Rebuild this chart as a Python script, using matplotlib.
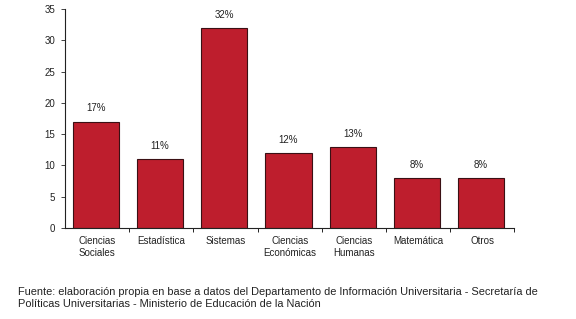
import matplotlib
matplotlib.use("Agg")
import matplotlib.pyplot as plt
import numpy as np

# Data
categories = ["Ciencias\nSociales", "Estadística", "Sistemas", "Ciencias\nEconómicas",
              "Ciencias\nHumanas", "Matemática", "Otros"]
values = [17, 11, 32, 12, 13, 8, 8]
labels = ["17%", "11%", "32%", "12%", "13%", "8%", "8%"]

plt.rcParams['font.family'] = ['Liberation Sans', 'DejaVu Sans']

fig = plt.figure(figsize=(5.76, 3.19), dpi=100)
ax = fig.add_axes([0.113, 0.285, 0.78, 0.687])

x = np.arange(len(categories))
ax.bar(x - 0.02, values, width=0.72, color='#BE1E2D', edgecolor='#3a1014', linewidth=0.8)

for xi, v, lab in zip(x, values, labels):
    ax.text(xi - 0.02, v + 1.3, lab, ha='center', va='bottom', fontsize=7, color='#222222')

ax.set_xlim(-0.5, len(categories) - 0.5)
ax.set_ylim(0, 35)
ax.set_yticks(range(0, 36, 5))
ax.tick_params(axis='y', labelsize=7, length=3, width=0.6, pad=4, colors='#222222')

# category labels centered, tick marks on boundaries
ax.set_xticks(x)
ax.set_xticklabels(categories, fontsize=7, color='#222222')
ax.tick_params(axis='x', length=0, pad=6)
ax.set_xticks(np.arange(0.5, len(categories) - 0.4, 1), minor=True)
ax.tick_params(axis='x', which='minor', length=3, width=0.6, direction='out')

for s in ['top', 'right']:
    ax.spines[s].set_visible(False)
for s in ['left', 'bottom']:
    ax.spines[s].set_linewidth(0.8)
    ax.spines[s].set_color('#222222')

fig.text(0.031, 0.1,
         "Fuente: elaboración propia en base a datos del Departamento de Información Universitaria - Secretaría de\n"
         "Políticas Universitarias - Ministerio de Educación de la Nación",
         fontsize=7.9, color='#222222', linespacing=1.2, va='top')

fig.savefig("out.png", dpi=100)
